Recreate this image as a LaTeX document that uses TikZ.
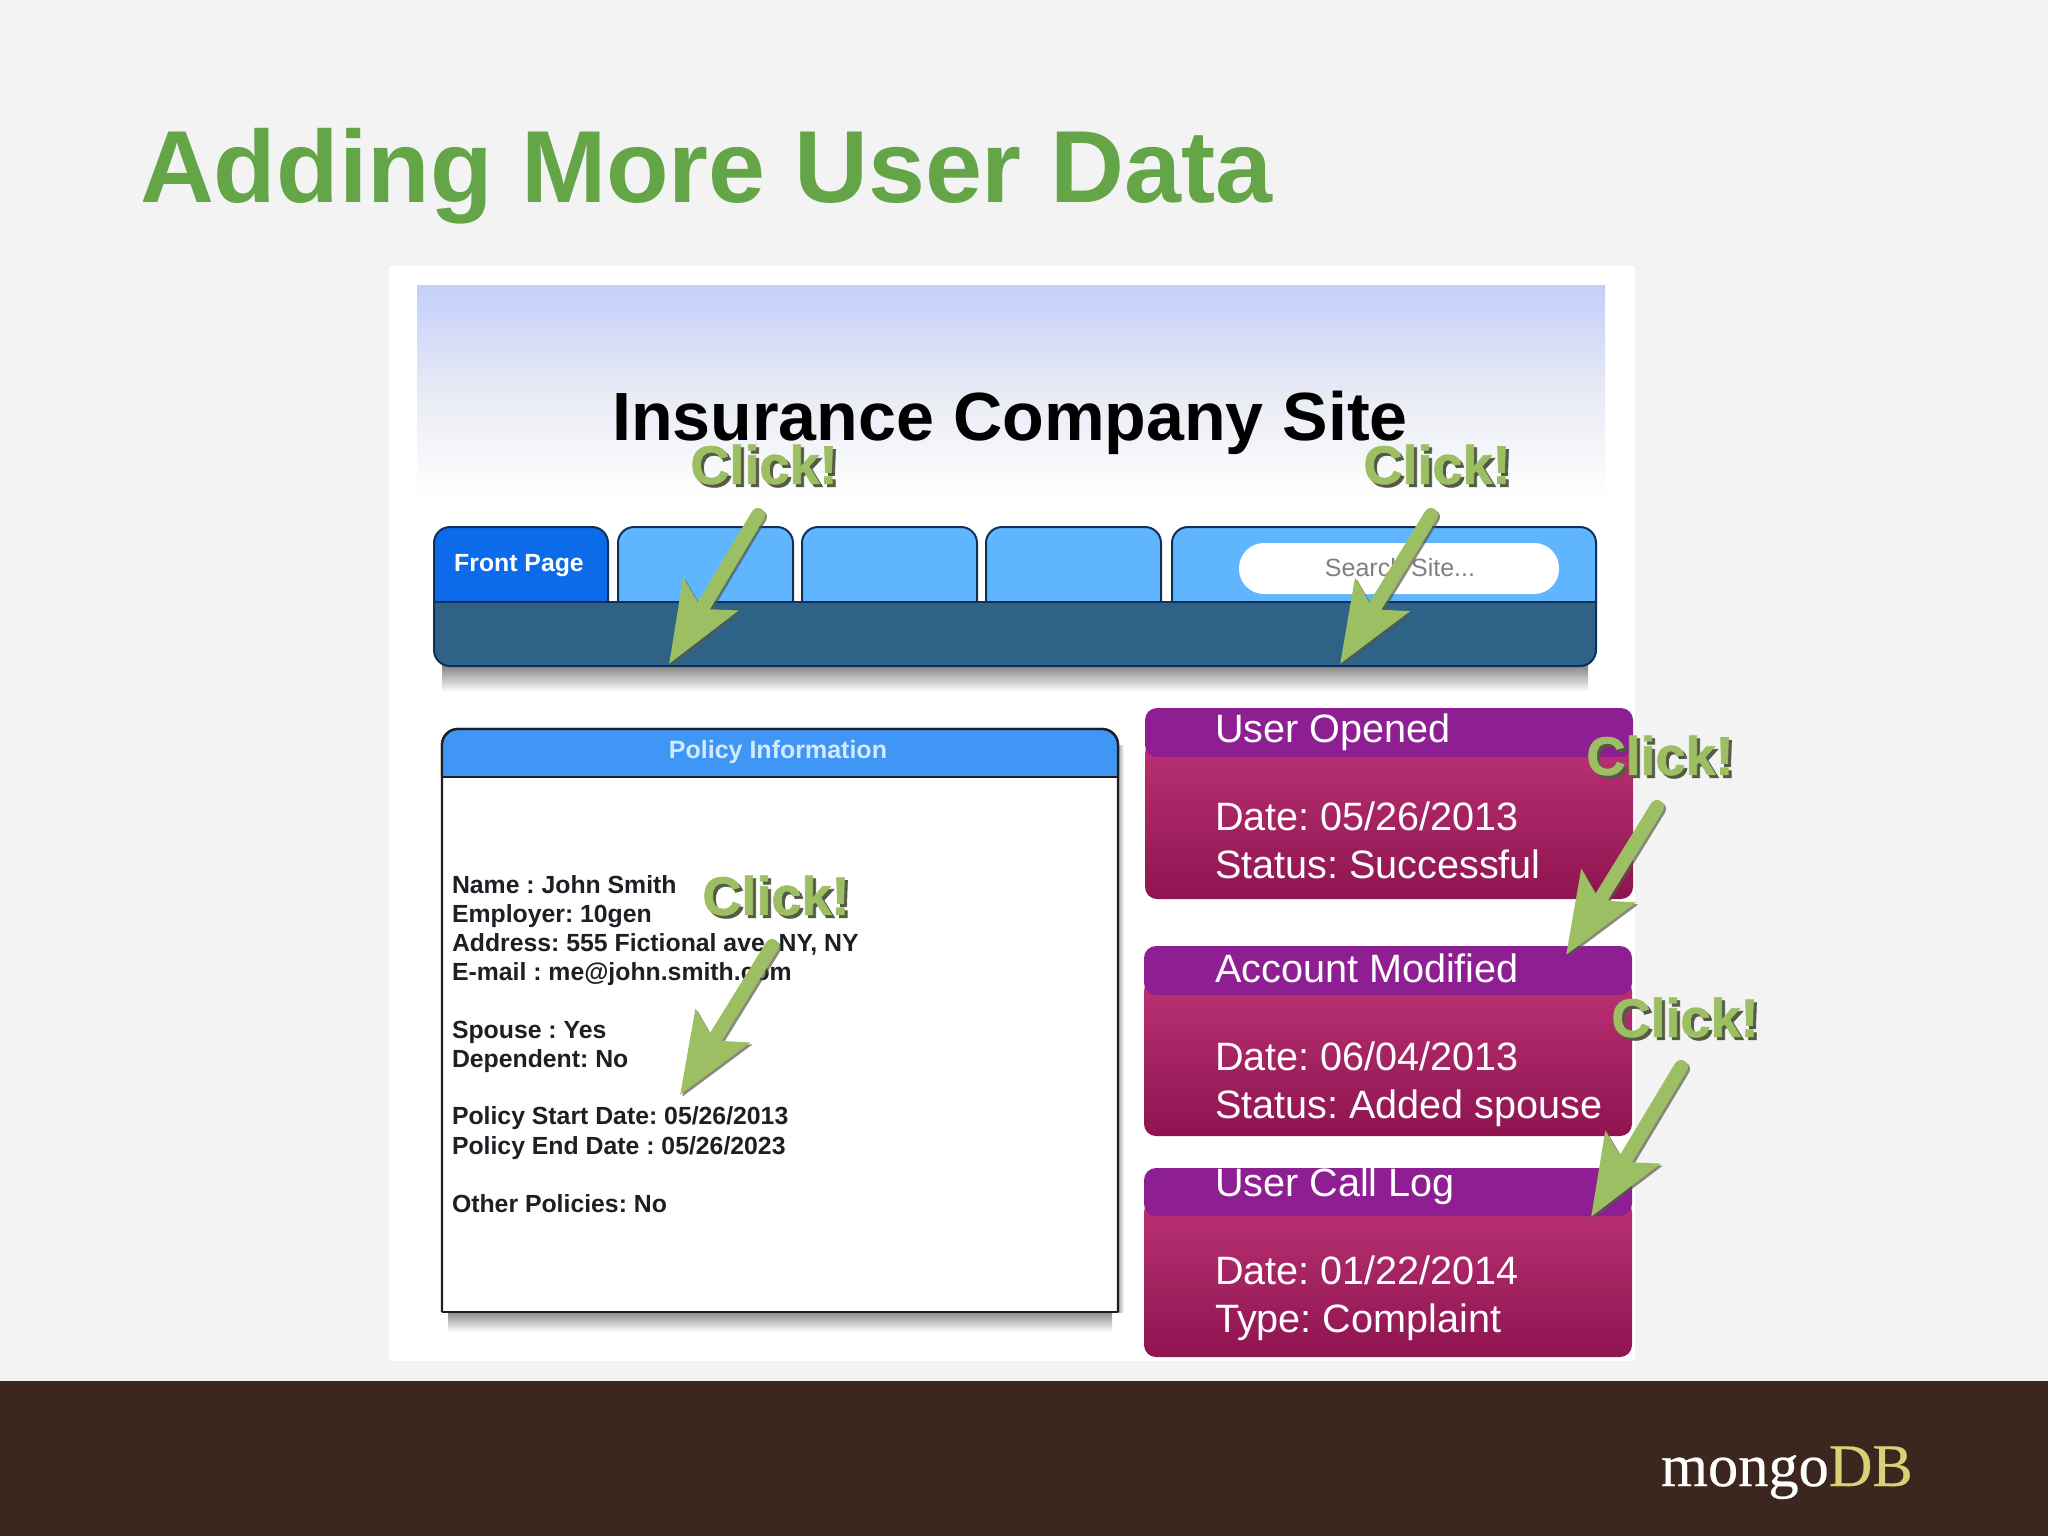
\documentclass[tikz,border=0pt]{standalone}
\usepackage{fontspec}
\setmainfont{Liberation Sans}
\newfontfamily\mongofont[FakeBold=0.4]{Liberation Serif}
\newfontfamily\clickfont[BoldFeatures={FakeBold=1.5}]{Liberation Sans}
\usetikzlibrary{arrows.meta,calc}
\frenchspacing
\definecolor{pagebg}{HTML}{F3F3F4}
\definecolor{footerbg}{HTML}{3B2720}
\definecolor{titlegreen}{HTML}{64A548}
\definecolor{headsky}{HTML}{C3CFFB}
\definecolor{headmid}{HTML}{E9EBF4}
\definecolor{tabblue}{HTML}{5FB6FE}
\definecolor{frontblue}{HTML}{0B6BEA}
\definecolor{barblue}{HTML}{2F6287}
\definecolor{navedge}{HTML}{10305A}
\definecolor{panelhead}{HTML}{3F96F5}
\definecolor{headtext}{HTML}{D2EAFF}
\definecolor{panelink}{HTML}{1E1E24}
\definecolor{cardhead}{HTML}{8E1F93}
\definecolor{cardtop}{HTML}{BB3273}
\definecolor{cardbot}{HTML}{8E1450}
\definecolor{clickgreen}{HTML}{9DBF63}
\definecolor{clickshade}{HTML}{555A45}
\definecolor{mongogold}{HTML}{D9D176}
\newcommand{\fsz}[1]{\fontsize{#1}{#1}\selectfont}
\newcommand{\clicktext}{\clickfont\bfseries\fsz{27}\rlap{\kern1.5pt\raisebox{-1.5pt}{\textcolor{clickshade}{Click!}}}\textcolor{clickgreen}{Click!}}
\tikzset{
  tx/.style={inner sep=0pt,outer sep=0pt},
  ptext/.style={tx,anchor=base west,text=panelink,font=\bfseries\fsz{12.4}},
  ctext/.style={tx,anchor=base west,text=white,font=\fsz{19.8}},
  clicklabel/.style={tx,anchor=center},
  tabshape/.style={draw=navedge,line width=1pt,rounded corners=8pt},
  greenarrow/.style={draw=clickgreen,line width=7pt,line cap=round,
    -{Stealth[length=40pt,width=31pt,inset=8pt,fill=clickgreen]}},
  shadearrow/.style={draw=clickshade,opacity=.7,line width=7pt,line cap=round,
    -{Stealth[length=40pt,width=31pt,inset=8pt,fill=clickshade]}},
  softshadow/.style={top color=black!50,bottom color=white,draw=none},
}
\newcommand{\clickarrow}[2]{%
  \draw[shadearrow] ($(#1)+(2,2)$) -- ($(#2)+(2,2)$);
  \draw[greenarrow] (#1) -- (#2);}
\newcommand{\card}[4]{% top, header bottom, bottom, x-left
  \shade[top color=cardtop,bottom color=cardbot,rounded corners=6pt]
    (#4,#2-16) rectangle (#4+488,#3);
  \fill[cardhead,rounded corners=6pt] (#4,#1) rectangle (#4+488,#2);}
\begin{document}
\begin{tikzpicture}[x=0.5pt,y=-0.5pt]
\useasboundingbox (0,0) rectangle (2048,1536);
\fill[pagebg] (0,0) rectangle (2048,1536);
\fill[footerbg] (0,1381) rectangle (2048,1536);
\node[tx,anchor=base west,text=titlegreen,font=\bfseries\fsz{51.2}] (pagetitle) at (140,202) {Adding More User Data};
\node[tx,anchor=base west,font=\mongofont\fsz{30.2}] (logo) at (1661,1486) {\textcolor{white}{mongo}\textcolor{mongogold}{DB}};

% screenshot panel
\fill[white] (389,266) rectangle (1635,1361);
\shade[top color=headsky,bottom color=headmid] (417,285) rectangle (1605,395);
\shade[top color=headmid,bottom color=white] (417,394) rectangle (1605,500);
\node[tx,anchor=base,font=\bfseries\fsz{34.1},text=black] (sitetitle) at (1010,440) {Insurance Company Site};

% navigation
\shade[softshadow] (442,664) rectangle (1588,692);
\draw[tabshape,fill=frontblue] (434,604) -- (434,527) -- (608,527) -- (608,604);
\draw[tabshape,fill=tabblue] (618,604) -- (618,527) -- (793,527) -- (793,604);
\draw[tabshape,fill=tabblue] (802,604) -- (802,527) -- (977,527) -- (977,604);
\draw[tabshape,fill=tabblue] (986,604) -- (986,527) -- (1161,527) -- (1161,604);
\draw[tabshape,fill=tabblue] (1172,604) -- (1172,527) -- (1596,527) -- (1596,604);
\draw[draw=navedge,line width=1pt,fill=barblue,rounded corners=8pt] (434,602) -- (434,666) -- (1596,666) -- (1596,602);
\draw[draw=navedge,line width=1pt] (434,602) -- (1596,602);
\fill[white,rounded corners=12.5pt] (1239,543) rectangle (1559,594);
\node[tx,font=\bfseries\fsz{12.4},text=white] (front) at (519,566) {Front Page};
\node[tx,font=\fsz{12.5},text=black!50] (search) at (1400,568) {Search Site...};

% policy panel
\shade[softshadow] (448,1310) rectangle (1112,1332);
\shade[left color=black!35,right color=white] (1118,745) rectangle (1124,1312);
\draw[draw=panelink,line width=1.2pt,fill=white,rounded corners=8pt] (442,1312) -- (442,729) -- (1118,729) -- (1118,1312);
\draw[draw=panelink,line width=1.2pt] (442,1312) -- (1118,1312);
\draw[draw=panelink,line width=1.2pt,fill=panelhead,rounded corners=8pt] (442,777) -- (442,729) -- (1118,729) -- (1118,777);
\draw[draw=panelink,line width=1.2pt] (442,777) -- (1118,777);
\node[tx,font=\bfseries\fsz{12.5},text=headtext] (policyhead) at (778,752) {Policy Information};
\node[ptext] (p1) at (452,893) {Name : John Smith};
\node[ptext] (p2) at (452,922) {Employer: 10gen};
\node[ptext] (p3) at (452,951) {Address: 555 Fictional ave, NY, NY};
\node[ptext] (p4) at (452,980) {E-mail : me@john.smith.com};
\node[ptext] (p5) at (452,1038) {Spouse : Yes};
\node[ptext] (p6) at (452,1067) {Dependent: No};
\node[ptext] (p7) at (452,1124) {Policy Start Date: 05/26/2013};
\node[ptext] (p8) at (452,1154) {Policy End Date : 05/26/2023};
\node[ptext] (p9) at (452,1212) {Other Policies: No};

% cards
\card{708}{757}{899}{1145}
\card{946}{995}{1136}{1144}
\card{1168}{1216}{1357}{1144}
\node[ctext] (c1a) at (1215,742) {User Opened};
\node[ctext] (c1b) at (1215,830) {Date: 05/26/2013};
\node[ctext] (c1c) at (1215,878) {Status: Successful};
\node[ctext] (c2a) at (1215,982) {Account Modified};
\node[ctext] (c2b) at (1215,1070) {Date: 06/04/2013};
\node[ctext] (c2c) at (1215,1118) {Status: Added spouse};
\node[ctext] (c3a) at (1215,1196) {User Call Log};
\node[ctext] (c3b) at (1215,1284) {Date: 01/22/2014};
\node[ctext] (c3c) at (1215,1332) {Type: Complaint};

% click callouts
\coordinate (a1s) at (758,515);  \coordinate (a1e) at (669,664);
\coordinate (a2s) at (1431,515); \coordinate (a2e) at (1340,664);
\coordinate (a3s) at (772,946);  \coordinate (a3e) at (680,1095);
\coordinate (a4s) at (1657,807); \coordinate (a4e) at (1566,955);
\coordinate (a5s) at (1681,1067);\coordinate (a5e) at (1591,1217);
\clickarrow{a1s}{a1e}
\clickarrow{a2s}{a2e}
\clickarrow{a3s}{a3e}
\clickarrow{a4s}{a4e}
\clickarrow{a5s}{a5e}
\node[clicklabel] (k1) at (764,466) {\clicktext};
\node[clicklabel] (k2) at (1437,466) {\clicktext};
\node[clicklabel] (k3) at (776,897) {\clicktext};
\node[clicklabel] (k4) at (1660,757) {\clicktext};
\node[clicklabel] (k5) at (1685,1019) {\clicktext};
\end{tikzpicture}
\end{document}
